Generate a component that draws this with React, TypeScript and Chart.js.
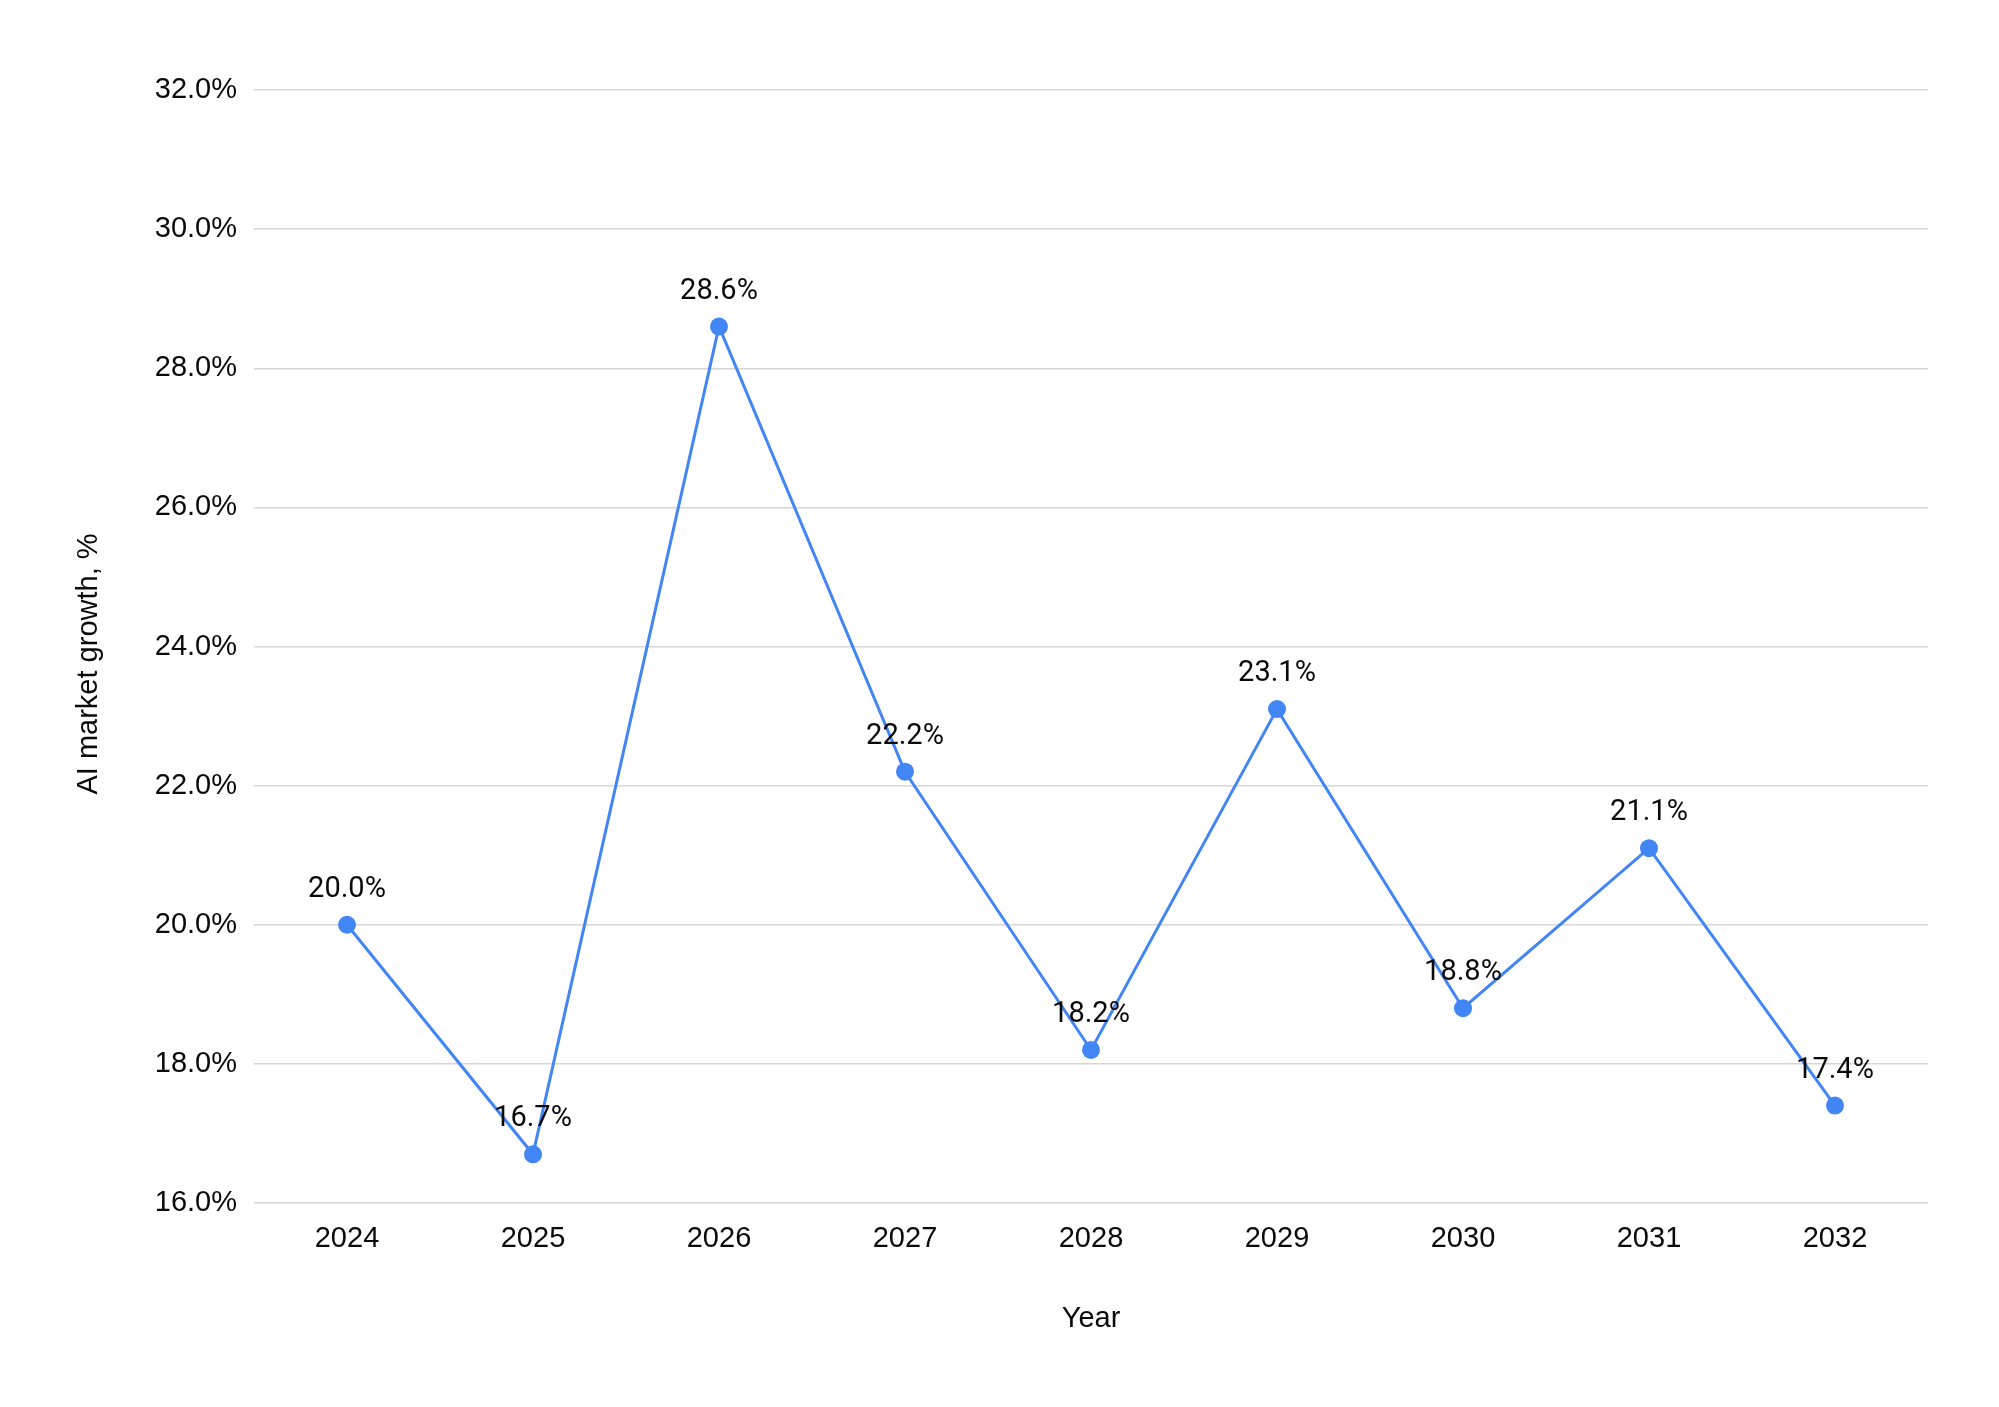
import React, { useEffect, useRef } from "react";
import { Chart, registerables } from "chart.js";

Chart.register(...registerables);

const years = ["2024", "2025", "2026", "2027", "2028", "2029", "2030", "2031", "2032"];
const growth = [20.0, 16.7, 28.6, 22.2, 18.2, 23.1, 18.8, 21.1, 17.4];
const yTitle = "AI market growth, %";
const xTitle = "Year";

const LABEL_FONT = "Roboto, 'Noto Sans', sans-serif";
const AXIS_FONT = "'Liberation Sans', Arial, sans-serif";
const TEXT_COLOR = "#0a0a0a";

const labelPlugin = {
  id: "customLabels",
  afterDatasetsDraw(chart: any) {
    const ctx = chart.ctx;
    const meta = chart.getDatasetMeta(0);
    ctx.save();
    ctx.font = `29px ${LABEL_FONT}`;
    ctx.fillStyle = TEXT_COLOR;
    ctx.textAlign = "center";
    ctx.textBaseline = "alphabetic";
    meta.data.forEach((pt: any, i: number) => {
      ctx.fillText(growth[i].toFixed(1) + "%", pt.x, pt.y - 28);
    });
    ctx.restore();
  },
  afterDraw(chart: any) {
    const ctx = chart.ctx;
    const area = chart.chartArea;
    ctx.save();
    ctx.font = `29px ${AXIS_FONT}`;
    ctx.fillStyle = TEXT_COLOR;
    ctx.textAlign = "center";
    ctx.textBaseline = "middle";
    ctx.fillText(xTitle, (area.left + area.right) / 2, 1319);
    ctx.translate(89, 664);
    ctx.rotate(-Math.PI / 2);
    ctx.fillText(yTitle, 0, 0);
    ctx.restore();
  },
};

export default function App() {
  const ref = useRef<HTMLCanvasElement>(null);
  useEffect(() => {
    if (!ref.current) return;
    const chart = new Chart(ref.current, {
      type: "line",
      data: {
        labels: years,
        datasets: [
          {
            data: growth,
            borderColor: "#4285F4",
            backgroundColor: "#4285F4",
            borderWidth: 3,
            pointRadius: 9,
            pointHoverRadius: 9,
            pointBorderWidth: 0,
            tension: 0,
          },
        ],
      },
      options: {
        animation: false,
        responsive: false,
        maintainAspectRatio: false,
        layout: { padding: { left: 0, right: 71, top: 90, bottom: 0 } },
        plugins: {
          legend: { display: false },
          tooltip: { enabled: false },
        },
        scales: {
          x: {
            offset: true,
            grid: { display: false, drawTicks: false },
            border: { display: false },
            ticks: {
              padding: 19,
              color: TEXT_COLOR,
              font: { family: AXIS_FONT, size: 29 },
              maxRotation: 0,
            },
            afterFit: (s: any) => {
              s.height = 204;
            },
          },
          y: {
            min: 16,
            max: 32,
            grid: { color: "#d6d6d6", lineWidth: 1.5, drawTicks: false },
            border: { display: false },
            ticks: {
              stepSize: 2,
              padding: 17,
              color: TEXT_COLOR,
              font: { family: AXIS_FONT, size: 29 },
              callback: (v: any) => Number(v).toFixed(1) + "%",
            },
            afterFit: (s: any) => {
              s.width = 254;
            },
          },
        },
      },
      plugins: [labelPlugin],
    });
    return () => chart.destroy();
  }, []);
  return (
    <div style={{ position: "fixed", left: 0, top: 0, width: 1999, height: 1407, background: "#fff" }}>
      <canvas ref={ref} width={1999} height={1407} style={{ width: 1999, height: 1407, display: "block" }} />
    </div>
  );
}
